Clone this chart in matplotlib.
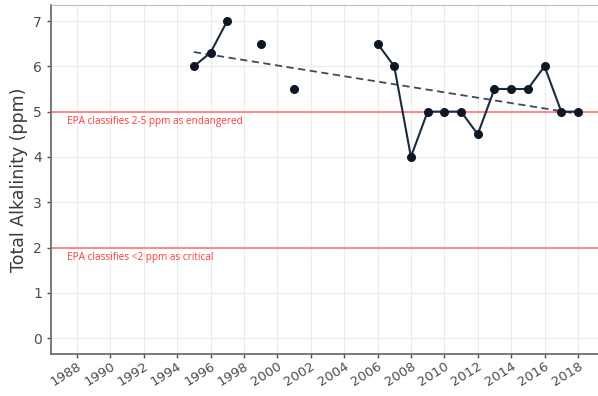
import numpy as np
import matplotlib.pyplot as plt

# Alkalinity by year (NaN = no sample, breaks the line)
years = np.arange(1995, 2019)
alkalinity = [6.0, 6.3, 7.0, np.nan, 6.5, np.nan, 5.5, np.nan, np.nan, np.nan, np.nan,
              6.5, 6.0, 4.0, 5.0, 5.0, 5.0, 4.5, 5.5, 5.5, 5.5, 6.0, 5.0, 5.0]
xticks = np.arange(1988, 2019, 2)
thresholds = [5, 2]
threshold_labels = ['EPA classifies 2-5 ppm as endangered', 'EPA classifies <2 ppm as critical']

y = np.array(alkalinity)
ok = ~np.isnan(y)

fig = plt.figure(figsize=(5.98, 3.96), dpi=100)
ax = fig.add_axes([0.0853, 0.106, 0.9147, 0.881])

# grid
ax.set_axisbelow(True)
ax.grid(color='#ebebeb', linewidth=0.8)

# EPA threshold lines
for t, lab in zip(thresholds, threshold_labels):
    ax.axhline(t, color='#ff8080', linewidth=1.3, zorder=1)
    ax.text(1987.4, t - 0.22, lab, color='#ff3c3c', fontsize=7.2,
            family='Open Sans', va='center', ha='left')

# trend line (linear fit)
slope, intercept = np.polyfit(years[ok], y[ok], 1)
xfit = np.array([years[ok].min(), years[ok].max()])
ax.plot(xfit, slope * xfit + intercept, color='#3d4a5c', linestyle=(0, (4, 2.5)),
        linewidth=1.3, zorder=2)

# data
ax.plot(years, y, color='#1c2b3c', linewidth=1.5, zorder=3)
ax.scatter(years[ok], y[ok], s=30, color='#0d1726', zorder=4)

ax.set_xlim(1986.45, 2019.2)
ax.set_ylim(-0.35, 7.35)
ax.set_xticks(xticks)
ax.set_yticks(range(0, 8))
ax.tick_params(axis='x', labelrotation=32, labelsize=9.5, colors='#4d4d4d', length=3, width=1, pad=1)
ax.tick_params(axis='y', labelsize=10, colors='#4d4d4d', length=3, width=1)
for lab in ax.get_xticklabels():
    lab.set_ha('right')
    lab.set_rotation_mode('anchor')

ax.set_ylabel('Total Alkalinity (ppm)', fontsize=12.5, color='#3a3a3a')

for s in ['left', 'bottom']:
    ax.spines[s].set_color('#6e6e6e')
    ax.spines[s].set_linewidth(1.3)
ax.spines['top'].set_color('#bdbdbd')
ax.spines['right'].set_visible(False)

plt.savefig('out.png', dpi=100)
